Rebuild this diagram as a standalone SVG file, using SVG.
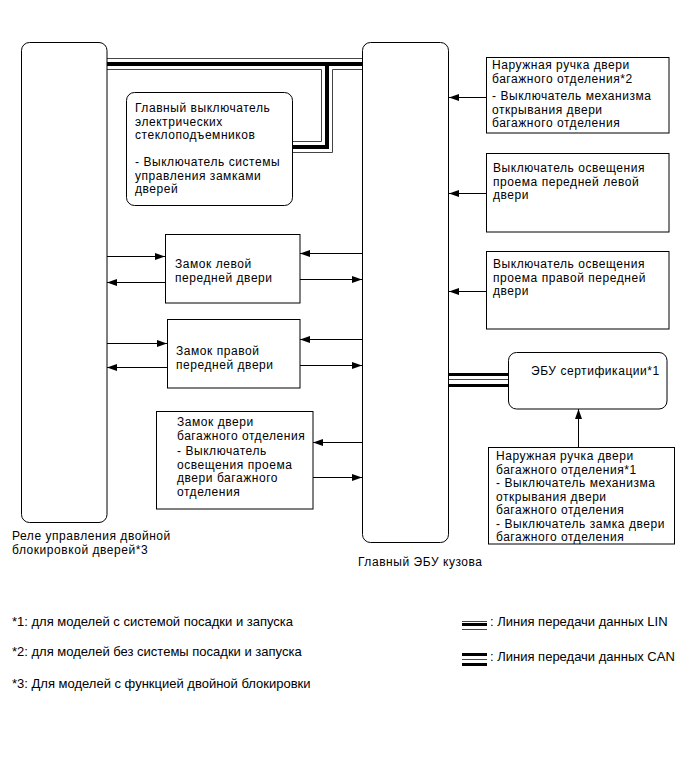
<svg xmlns="http://www.w3.org/2000/svg" width="691" height="757" viewBox="0 0 691 757">
<style>
text{font-family:"Liberation Sans",Arial,sans-serif;font-size:12px;letter-spacing:0.55px;fill:#000}
text.lg{font-size:13px;letter-spacing:0}
.box{fill:#fff;stroke:#000;stroke-width:1}
.ar{stroke:#000;stroke-width:1;fill:none;marker-end:url(#ah)}
.thin{stroke:#444;stroke-width:1;fill:none}
.thick{stroke:#000;stroke-width:4;fill:none}
.can{stroke:#000;stroke-width:3;fill:none}
</style>
<defs>
<marker id="ah" markerUnits="userSpaceOnUse" markerWidth="10" markerHeight="7" refX="10" refY="3.5" orient="auto">
<path d="M0,0 L10,3.5 L0,7 z" fill="#000"/>
</marker>
</defs>
<rect width="691" height="757" fill="#fff"/>

<g id="connectors">
<!-- LIN bus -->
<path class="thin" d="M107,58.5 H362"/>
<path class="thick" d="M107,64 H362 M327,64 V147 H293"/>
<path class="thin" d="M107,69.5 H321.5 V141.5 H293"/>
<path class="thin" d="M362,69.5 H332.5 V152.5 H293"/>
<!-- CAN bus -->
<path class="can" d="M449,374.5 H508 M449,385.5 H508"/>
<path class="thin" d="M449,379.5 H508"/>
<!-- left lock -->
<line class="ar" x1="107" y1="256.5" x2="165" y2="256.5"/>
<line class="ar" x1="165" y1="282.5" x2="107" y2="282.5"/>
<line class="ar" x1="362" y1="253.5" x2="300" y2="253.5"/>
<line class="ar" x1="300" y1="279.5" x2="362" y2="279.5"/>
<!-- right lock -->
<line class="ar" x1="107" y1="343.5" x2="167" y2="343.5"/>
<line class="ar" x1="167" y1="367.5" x2="107" y2="367.5"/>
<line class="ar" x1="362" y1="339.5" x2="300" y2="339.5"/>
<line class="ar" x1="300" y1="365.5" x2="362" y2="365.5"/>
<!-- trunk lock -->
<line class="ar" x1="362" y1="442.5" x2="313" y2="442.5"/>
<line class="ar" x1="313" y1="477.5" x2="362" y2="477.5"/>
<!-- right side switches -->
<line class="ar" x1="486" y1="97.5" x2="449" y2="97.5"/>
<line class="ar" x1="486" y1="193.5" x2="449" y2="193.5"/>
<line class="ar" x1="486" y1="291.5" x2="449" y2="291.5"/>
<line class="ar" x1="578.5" y1="447" x2="578.5" y2="409"/>
</g>

<g id="relay">
<rect class="box" x="21.5" y="42.5" width="85.5" height="480" rx="8"/>
<text x="12" y="540">Реле управления двойной</text>
<text x="12" y="554">блокировкой дверей*3</text>
</g>

<g id="main-ecu">
<rect class="box" x="362.5" y="42.5" width="86" height="500" rx="8"/>
<text x="358" y="566">Главный ЭБУ кузова</text>
</g>

<g id="window-switch">
<rect class="box" x="126.5" y="92.5" width="166" height="113" rx="8"/>
<text x="135" y="112">Главный выключатель</text>
<text x="135" y="125.5">электрических</text>
<text x="135" y="139">стеклоподъемников</text>
<text x="135" y="166">- Выключатель системы</text>
<text x="135" y="179.5">управления замками</text>
<text x="135" y="193">дверей</text>
</g>

<g id="lock-left">
<rect class="box" x="165.5" y="234.5" width="134.5" height="68.5"/>
<text x="175" y="268">Замок левой</text>
<text x="175" y="282">передней двери</text>
</g>

<g id="lock-right">
<rect class="box" x="167.5" y="319.5" width="132.5" height="68.5"/>
<text x="176" y="355">Замок правой</text>
<text x="176" y="369">передней двери</text>
</g>

<g id="lock-trunk">
<rect class="box" x="156.5" y="411.5" width="156.5" height="97.5"/>
<text x="177" y="426">Замок двери</text>
<text x="177" y="439.5">багажного отделения</text>
<text x="177" y="455">- Выключатель</text>
<text x="177" y="468.5">освещения проема</text>
<text x="177" y="482">двери багажного</text>
<text x="177" y="495.5">отделения</text>
</g>

<g id="handle-2">
<rect class="box" x="486.5" y="57.5" width="182.5" height="75.5"/>
<text x="492" y="69">Наружная ручка двери</text>
<text x="492" y="82.5">багажного отделения*2</text>
<text x="492" y="100">- Выключатель механизма</text>
<text x="492" y="113.5">открывания двери</text>
<text x="492" y="127">багажного отделения</text>
</g>

<g id="courtesy-left">
<rect class="box" x="486.5" y="153.5" width="182.5" height="78.5"/>
<text x="493" y="172">Выключатель освещения</text>
<text x="493" y="185.5">проема передней левой</text>
<text x="493" y="199">двери</text>
</g>

<g id="courtesy-right">
<rect class="box" x="486.5" y="251.5" width="182.5" height="77.5"/>
<text x="493" y="268">Выключатель освещения</text>
<text x="493" y="281.5">проема правой передней</text>
<text x="493" y="295">двери</text>
</g>

<g id="cert-ecu">
<rect class="box" x="508.5" y="352.5" width="158.5" height="56.5" rx="8"/>
<text x="531" y="375">ЭБУ сертификации*1</text>
</g>

<g id="handle-1">
<rect class="box" x="488.5" y="447.5" width="186" height="96.5"/>
<text x="496" y="460">Наружная ручка двери</text>
<text x="496" y="473.5">багажного отделения*1</text>
<text x="496" y="487">- Выключатель механизма</text>
<text x="496" y="500.5">открывания двери</text>
<text x="496" y="514">багажного отделения</text>
<text x="496" y="527.5">- Выключатель замка двери</text>
<text x="496" y="541">багажного отделения</text>
</g>

<g id="legend">
<text class="lg" x="12" y="626">*1: для моделей с системой посадки и запуска</text>
<text class="lg" x="12" y="656">*2: для моделей без системы посадки и запуска</text>
<text class="lg" x="12" y="688">*3: Для моделей с функцией двойной блокировки</text>
<path class="thin" d="M462,621.5 H487 M462,629.5 H487"/>
<path d="M462,624.5 H487" stroke="#000" stroke-width="3"/>
<text class="lg" x="490" y="626">: Линия передачи данных LIN</text>
<path class="can" d="M462,654.5 H487 M462,664.5 H487"/>
<path class="thin" d="M462,659.5 H487"/>
<text class="lg" x="490" y="661">: Линия передачи данных CAN</text>
</g>
</svg>
